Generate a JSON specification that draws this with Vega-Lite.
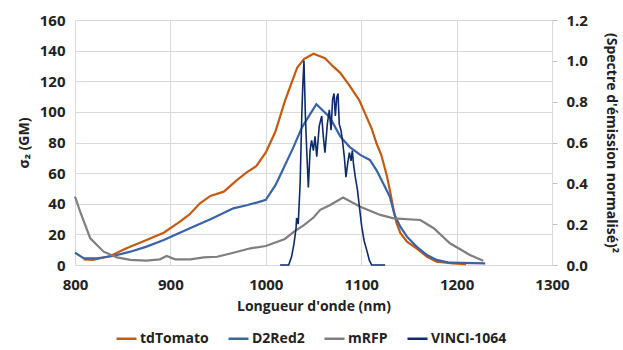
{
  "$schema": "https://vega.github.io/schema/vega-lite/v6.json",
  "width": 477,
  "height": 245,
  "autosize": "none",
  "padding": {"left": 75, "top": 20, "right": 71, "bottom": 85},
  "config": {
    "font": "Open Sans",
    "view": {"stroke": null},
    "axis": {
      "labelFont": "Open Sans", "labelFontSize": 15, "labelFontWeight": 700, "labelColor": "#222222",
      "titleFont": "Open Sans", "titleFontSize": 14, "titleFontWeight": 700, "titleColor": "#222222",
      "gridColor": "#d9d9d9", "gridWidth": 1, "labelFlush": false
    },
    "legend": {"labelFont": "Open Sans", "labelFontSize": 14, "labelFontWeight": 700, "labelColor": "#222222"}
  },
  "datasets": {
    "gm": [
      {"nm": 809, "v": 3.7, "s": "tdTomato"}, {"nm": 819, "v": 3.3, "s": "tdTomato"}, {"nm": 837, "v": 5.9, "s": "tdTomato"},
      {"nm": 854, "v": 10.9, "s": "tdTomato"}, {"nm": 875, "v": 16.3, "s": "tdTomato"}, {"nm": 893, "v": 21.1, "s": "tdTomato"},
      {"nm": 910, "v": 28.3, "s": "tdTomato"}, {"nm": 920, "v": 33, "s": "tdTomato"}, {"nm": 931, "v": 40.3, "s": "tdTomato"},
      {"nm": 942, "v": 45.1, "s": "tdTomato"}, {"nm": 956, "v": 47.9, "s": "tdTomato"}, {"nm": 970, "v": 55.6, "s": "tdTomato"},
      {"nm": 980, "v": 60.5, "s": "tdTomato"}, {"nm": 990, "v": 64.5, "s": "tdTomato"}, {"nm": 1000, "v": 73.5, "s": "tdTomato"},
      {"nm": 1010, "v": 87, "s": "tdTomato"}, {"nm": 1020, "v": 107, "s": "tdTomato"}, {"nm": 1027, "v": 119, "s": "tdTomato"},
      {"nm": 1033, "v": 129, "s": "tdTomato"}, {"nm": 1040, "v": 134.5, "s": "tdTomato"}, {"nm": 1050, "v": 138, "s": "tdTomato"},
      {"nm": 1062, "v": 135, "s": "tdTomato"}, {"nm": 1070, "v": 130, "s": "tdTomato"}, {"nm": 1078, "v": 125.5, "s": "tdTomato"},
      {"nm": 1088, "v": 117, "s": "tdTomato"}, {"nm": 1098, "v": 107.5, "s": "tdTomato"}, {"nm": 1104, "v": 99, "s": "tdTomato"},
      {"nm": 1111, "v": 89, "s": "tdTomato"}, {"nm": 1116, "v": 79.5, "s": "tdTomato"}, {"nm": 1121, "v": 72, "s": "tdTomato"},
      {"nm": 1127, "v": 58, "s": "tdTomato"}, {"nm": 1130, "v": 49, "s": "tdTomato"}, {"nm": 1134, "v": 36, "s": "tdTomato"},
      {"nm": 1137, "v": 27.5, "s": "tdTomato"}, {"nm": 1141, "v": 21, "s": "tdTomato"}, {"nm": 1148, "v": 15.2, "s": "tdTomato"},
      {"nm": 1158, "v": 10.9, "s": "tdTomato"}, {"nm": 1169, "v": 5.4, "s": "tdTomato"}, {"nm": 1179, "v": 2.2, "s": "tdTomato"},
      {"nm": 1196, "v": 1.0, "s": "tdTomato"}, {"nm": 1210, "v": 0.6, "s": "tdTomato"},

      {"nm": 800, "v": 8, "s": "D2Red2"}, {"nm": 809, "v": 4.4, "s": "D2Red2"}, {"nm": 823, "v": 4.4, "s": "D2Red2"},
      {"nm": 840, "v": 5.9, "s": "D2Red2"}, {"nm": 858, "v": 8.7, "s": "D2Red2"}, {"nm": 875, "v": 12, "s": "D2Red2"},
      {"nm": 893, "v": 16.3, "s": "D2Red2"}, {"nm": 907, "v": 20.3, "s": "D2Red2"}, {"nm": 924, "v": 25, "s": "D2Red2"},
      {"nm": 942, "v": 29.9, "s": "D2Red2"}, {"nm": 966, "v": 37, "s": "D2Red2"}, {"nm": 980, "v": 39, "s": "D2Red2"},
      {"nm": 994, "v": 41.4, "s": "D2Red2"}, {"nm": 1000, "v": 42.5, "s": "D2Red2"}, {"nm": 1010, "v": 52, "s": "D2Red2"},
      {"nm": 1017, "v": 61, "s": "D2Red2"}, {"nm": 1029, "v": 77, "s": "D2Red2"}, {"nm": 1038, "v": 90, "s": "D2Red2"},
      {"nm": 1046, "v": 98, "s": "D2Red2"}, {"nm": 1053, "v": 105, "s": "D2Red2"}, {"nm": 1067, "v": 96.5, "s": "D2Red2"},
      {"nm": 1078, "v": 84, "s": "D2Red2"}, {"nm": 1088, "v": 77, "s": "D2Red2"}, {"nm": 1092, "v": 75.2, "s": "D2Red2"},
      {"nm": 1099, "v": 71.9, "s": "D2Red2"}, {"nm": 1109, "v": 68.6, "s": "D2Red2"}, {"nm": 1116, "v": 62, "s": "D2Red2"},
      {"nm": 1123, "v": 53.4, "s": "D2Red2"}, {"nm": 1130, "v": 44.6, "s": "D2Red2"}, {"nm": 1135, "v": 32.7, "s": "D2Red2"},
      {"nm": 1141, "v": 25, "s": "D2Red2"}, {"nm": 1148, "v": 18.5, "s": "D2Red2"}, {"nm": 1158, "v": 12, "s": "D2Red2"},
      {"nm": 1169, "v": 6.5, "s": "D2Red2"}, {"nm": 1179, "v": 3.3, "s": "D2Red2"}, {"nm": 1193, "v": 1.5, "s": "D2Red2"},
      {"nm": 1230, "v": 1.1, "s": "D2Red2"},

      {"nm": 800, "v": 44.6, "s": "mRFP"}, {"nm": 806, "v": 33.8, "s": "mRFP"}, {"nm": 816, "v": 17.4, "s": "mRFP"},
      {"nm": 830, "v": 8.7, "s": "mRFP"}, {"nm": 844, "v": 5, "s": "mRFP"}, {"nm": 858, "v": 3.3, "s": "mRFP"},
      {"nm": 875, "v": 2.8, "s": "mRFP"}, {"nm": 889, "v": 3.7, "s": "mRFP"}, {"nm": 896, "v": 5.9, "s": "mRFP"},
      {"nm": 905, "v": 3.7, "s": "mRFP"}, {"nm": 921, "v": 3.7, "s": "mRFP"}, {"nm": 935, "v": 5, "s": "mRFP"},
      {"nm": 949, "v": 5.4, "s": "mRFP"}, {"nm": 966, "v": 8, "s": "mRFP"}, {"nm": 984, "v": 10.9, "s": "mRFP"},
      {"nm": 1000, "v": 12.4, "s": "mRFP"}, {"nm": 1020, "v": 17, "s": "mRFP"}, {"nm": 1030, "v": 22, "s": "mRFP"},
      {"nm": 1040, "v": 26, "s": "mRFP"}, {"nm": 1050, "v": 31, "s": "mRFP"}, {"nm": 1057, "v": 36, "s": "mRFP"},
      {"nm": 1067, "v": 39, "s": "mRFP"}, {"nm": 1081, "v": 44, "s": "mRFP"}, {"nm": 1099, "v": 38, "s": "mRFP"},
      {"nm": 1120, "v": 32.7, "s": "mRFP"}, {"nm": 1134, "v": 30.5, "s": "mRFP"}, {"nm": 1162, "v": 29.4, "s": "mRFP"},
      {"nm": 1176, "v": 24, "s": "mRFP"}, {"nm": 1193, "v": 14.2, "s": "mRFP"}, {"nm": 1214, "v": 6.5, "s": "mRFP"},
      {"nm": 1228, "v": 2.8, "s": "mRFP"}
    ],
    "vinci": [
      {"nm": 1015, "v": 0, "s": "VINCI-1064"}, {"nm": 1024, "v": 0, "s": "VINCI-1064"}, {"nm": 1027, "v": 0.04, "s": "VINCI-1064"},
      {"nm": 1029.6, "v": 0.106, "s": "VINCI-1064"}, {"nm": 1031.7, "v": 0.18, "s": "VINCI-1064"}, {"nm": 1032.3, "v": 0.23, "s": "VINCI-1064"},
      {"nm": 1034, "v": 0.2, "s": "VINCI-1064"}, {"nm": 1036, "v": 0.4, "s": "VINCI-1064"}, {"nm": 1037.7, "v": 0.73, "s": "VINCI-1064"},
      {"nm": 1038.7, "v": 0.87, "s": "VINCI-1064"}, {"nm": 1040, "v": 1.0, "s": "VINCI-1064"}, {"nm": 1041.5, "v": 0.73, "s": "VINCI-1064"},
      {"nm": 1042.9, "v": 0.56, "s": "VINCI-1064"}, {"nm": 1044.6, "v": 0.38, "s": "VINCI-1064"}, {"nm": 1046.4, "v": 0.56, "s": "VINCI-1064"},
      {"nm": 1048, "v": 0.61, "s": "VINCI-1064"}, {"nm": 1049.9, "v": 0.56, "s": "VINCI-1064"}, {"nm": 1051.6, "v": 0.63, "s": "VINCI-1064"},
      {"nm": 1053.4, "v": 0.53, "s": "VINCI-1064"}, {"nm": 1056, "v": 0.68, "s": "VINCI-1064"}, {"nm": 1058.6, "v": 0.73, "s": "VINCI-1064"},
      {"nm": 1060.3, "v": 0.63, "s": "VINCI-1064"}, {"nm": 1062, "v": 0.55, "s": "VINCI-1064"}, {"nm": 1064.5, "v": 0.69, "s": "VINCI-1064"},
      {"nm": 1066.6, "v": 0.76, "s": "VINCI-1064"}, {"nm": 1068.4, "v": 0.66, "s": "VINCI-1064"}, {"nm": 1070, "v": 0.81, "s": "VINCI-1064"},
      {"nm": 1071.5, "v": 0.84, "s": "VINCI-1064"}, {"nm": 1072.9, "v": 0.73, "s": "VINCI-1064"}, {"nm": 1074.3, "v": 0.82, "s": "VINCI-1064"},
      {"nm": 1075.7, "v": 0.84, "s": "VINCI-1064"}, {"nm": 1077, "v": 0.69, "s": "VINCI-1064"}, {"nm": 1078.8, "v": 0.66, "s": "VINCI-1064"},
      {"nm": 1080.6, "v": 0.6, "s": "VINCI-1064"}, {"nm": 1082.3, "v": 0.53, "s": "VINCI-1064"}, {"nm": 1084, "v": 0.43, "s": "VINCI-1064"},
      {"nm": 1085.9, "v": 0.5, "s": "VINCI-1064"}, {"nm": 1087.6, "v": 0.55, "s": "VINCI-1064"}, {"nm": 1089.3, "v": 0.51, "s": "VINCI-1064"},
      {"nm": 1090.7, "v": 0.56, "s": "VINCI-1064"}, {"nm": 1091.8, "v": 0.5, "s": "VINCI-1064"}, {"nm": 1093.8, "v": 0.43, "s": "VINCI-1064"},
      {"nm": 1096, "v": 0.37, "s": "VINCI-1064"}, {"nm": 1098, "v": 0.29, "s": "VINCI-1064"}, {"nm": 1100.5, "v": 0.19, "s": "VINCI-1064"},
      {"nm": 1103, "v": 0.12, "s": "VINCI-1064"}, {"nm": 1105.8, "v": 0.073, "s": "VINCI-1064"}, {"nm": 1108.5, "v": 0.024, "s": "VINCI-1064"},
      {"nm": 1111, "v": 0, "s": "VINCI-1064"}, {"nm": 1125, "v": 0, "s": "VINCI-1064"}
    ]
  },
  "layer": [
    {
      "data": {"name": "gm"},
      "mark": {"type": "line", "strokeWidth": 2.2},
      "encoding": {
        "x": {
          "field": "nm", "type": "quantitative",
          "scale": {"domain": [800, 1300], "nice": false, "zero": false},
          "axis": {"title": "Longueur d'onde (nm)", "values": [800, 900, 1000, 1100, 1200, 1300], "format": "d",
                   "grid": true, "domain": false, "ticks": false, "labelPadding": 12, "titlePadding": 7}
        },
        "y": {
          "field": "v", "type": "quantitative",
          "scale": {"domain": [0, 160], "nice": false},
          "axis": {"title": "σ₂ (GM)", "values": [0, 20, 40, 60, 80, 100, 120, 140, 160],
                   "grid": true, "domain": false, "ticks": false, "labelPadding": 10, "titlePadding": 8}
        },
        "color": {
          "field": "s", "type": "nominal",
          "scale": {"domain": ["tdTomato", "D2Red2", "mRFP", "VINCI-1064"],
                    "range": ["#C55A11", "#3A62A7", "#7F7F7F", "#0D2A6B"]},
          "legend": {"title": null, "orient": "none", "legendX": 40, "legendY": 307,
                     "direction": "horizontal", "symbolType": "stroke", "symbolSize": 400,
                     "symbolStrokeWidth": 2.5, "labelOffset": 2, "columnPadding": 14}
        }
      }
    },
    {
      "data": {"name": "vinci"},
      "mark": {"type": "line", "strokeWidth": 1.6},
      "encoding": {
        "x": {"field": "nm", "type": "quantitative", "scale": {"domain": [800, 1300], "nice": false, "zero": false}},
        "y": {
          "field": "v", "type": "quantitative",
          "scale": {"domain": [0, 1.2], "nice": false},
          "axis": {"title": "(Spectre d'émission normalisé)²", "orient": "right",
                   "values": [0, 0.2, 0.4, 0.6, 0.8, 1.0, 1.2], "format": ".1f",
                   "grid": false, "domain": true, "domainColor": "#d9d9d9", "ticks": true,
                   "tickColor": "#bfbfbf", "tickSize": 5, "labelPadding": 9, "titlePadding": 16}
        },
        "color": {"field": "s", "type": "nominal"}
      }
    }
  ],
  "resolve": {"scale": {"y": "independent"}}
}
